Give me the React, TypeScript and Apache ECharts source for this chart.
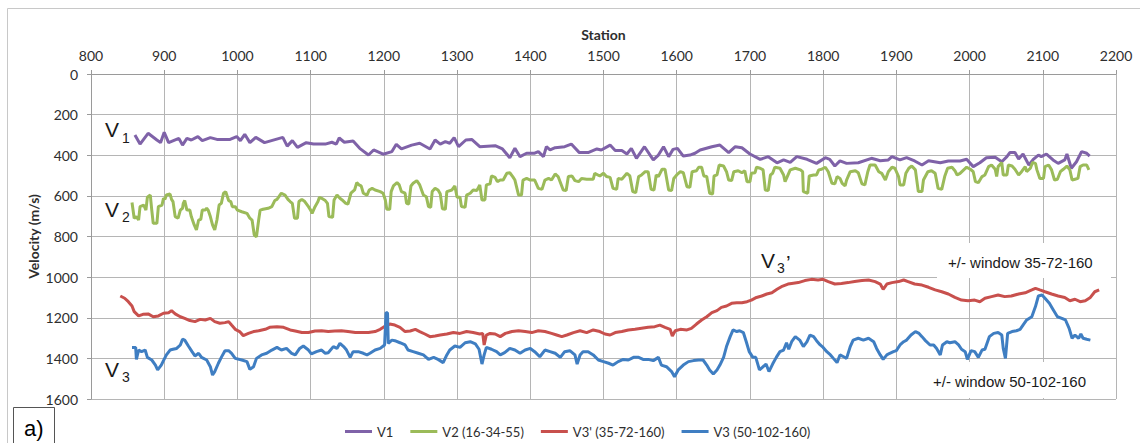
import React, { useEffect, useRef } from "react";
import * as echarts from "echarts";

// Station ranges and axis settings
const stationMin = 800;
const stationMax = 2200;
const stationStep = 100;
const velocityMin = 0;
const velocityMax = 1600;
const velocityStep = 200;

const seriesNames = ["V1", "V2 (16-34-55)", "V3' (35-72-160)", "V3 (50-102-160)"];
const seriesColors = ["#7F62A8", "#9BBB59", "#C8504D", "#3F7EC2"];

// [station, velocity m/s]
const v1: number[][] = [
  [860, 300], [867, 345], [878, 292], [890, 325], [895, 338], [900, 287], [906, 338], [920, 317], [925, 350], [931, 317],
  [937, 325], [946, 308], [952, 328], [963, 313], [972, 322], [990, 322], [999, 308], [1004, 328], [1010, 297], [1017, 338],
  [1025, 312], [1037, 338], [1062, 312], [1068, 355], [1075, 328], [1082, 361], [1094, 338], [1104, 345], [1120, 345], [1129, 336],
  [1135, 345], [1139, 315], [1146, 336], [1158, 330], [1167, 366], [1179, 399], [1186, 374], [1199, 395], [1211, 382], [1217, 346],
  [1224, 369], [1238, 350], [1249, 341], [1263, 369], [1270, 325], [1277, 345], [1284, 333], [1290, 341], [1296, 313], [1302, 358],
  [1312, 325], [1320, 322], [1331, 358], [1352, 353], [1362, 369], [1372, 412], [1379, 366], [1386, 407], [1395, 390], [1406, 390],
  [1411, 382], [1418, 407], [1422, 358], [1427, 374], [1434, 363], [1447, 358], [1456, 345], [1467, 387], [1479, 387], [1491, 369],
  [1497, 374], [1509, 350], [1516, 377], [1525, 377], [1532, 394], [1538, 366], [1545, 415], [1556, 358], [1568, 423], [1575, 399],
  [1582, 358], [1589, 407], [1595, 371], [1601, 366], [1609, 404], [1618, 399], [1625, 390], [1632, 374], [1648, 358], [1659, 350],
  [1671, 387], [1680, 358], [1689, 363], [1700, 394], [1714, 420], [1725, 407], [1737, 437], [1746, 423], [1755, 435], [1764, 407],
  [1778, 420], [1791, 440], [1803, 412], [1809, 420], [1816, 453], [1823, 428], [1832, 440], [1848, 437], [1866, 415], [1878, 427],
  [1889, 423], [1894, 407], [1905, 423], [1914, 412], [1925, 428], [1935, 448], [1944, 427], [1960, 437], [1971, 428], [1987, 428],
  [1996, 420], [2005, 456], [2014, 437], [2023, 412], [2035, 410], [2044, 432], [2051, 407], [2055, 387], [2062, 387], [2067, 418],
  [2073, 394], [2081, 448], [2087, 420], [2094, 399], [2098, 407], [2105, 394], [2114, 423], [2121, 440], [2130, 423], [2133, 394],
  [2139, 464], [2146, 432], [2153, 382], [2160, 390], [2164, 404],
];

const v2: number[][] = [
  [856, 633], [859, 710], [862, 702], [865, 719], [867, 653], [872, 645], [875, 670], [877, 607], [881, 596], [883, 670],
  [885, 735], [890, 735], [892, 653], [897, 645], [899, 612], [901, 617], [903, 596], [908, 591], [910, 617], [912, 628],
  [915, 702], [919, 710], [922, 670], [925, 661], [926, 637], [928, 623], [931, 670], [935, 670], [937, 702], [941, 743],
  [944, 768], [947, 719], [950, 715], [952, 670], [956, 670], [958, 661], [960, 670], [963, 702], [966, 743], [969, 768],
  [972, 719], [975, 645], [978, 637], [981, 587], [984, 579], [988, 623], [991, 628], [993, 653], [997, 653], [1000, 670],
  [1006, 678], [1013, 686], [1017, 710], [1020, 719], [1023, 793], [1026, 801], [1029, 719], [1031, 670], [1035, 666], [1042, 661],
  [1047, 653], [1051, 623], [1054, 617], [1056, 607], [1060, 587], [1065, 596], [1069, 617], [1072, 628], [1075, 637], [1078, 710],
  [1082, 710], [1084, 628], [1088, 617], [1092, 628], [1097, 653], [1100, 670], [1102, 686], [1106, 653], [1110, 628], [1112, 607],
  [1115, 612], [1120, 623], [1123, 637], [1125, 702], [1130, 706], [1132, 620], [1136, 596], [1140, 612], [1143, 620], [1148, 637],
  [1151, 640], [1155, 587], [1160, 571], [1163, 535], [1166, 546], [1169, 551], [1172, 587], [1177, 596], [1180, 571], [1184, 563],
  [1188, 571], [1195, 579], [1199, 587], [1202, 620], [1204, 666], [1208, 666], [1210, 579], [1213, 551], [1218, 535], [1221, 546],
  [1224, 579], [1229, 587], [1231, 637], [1234, 640], [1237, 551], [1240, 538], [1245, 525], [1249, 546], [1254, 596], [1258, 604],
  [1261, 653], [1264, 656], [1266, 579], [1270, 563], [1274, 571], [1277, 590], [1280, 663], [1284, 666], [1286, 579], [1293, 571],
  [1297, 551], [1300, 607], [1304, 607], [1306, 653], [1311, 656], [1313, 596], [1318, 587], [1322, 571], [1327, 574], [1331, 546],
  [1334, 620], [1338, 620], [1340, 546], [1345, 541], [1347, 502], [1352, 509], [1355, 530], [1359, 522], [1363, 522], [1368, 489],
  [1372, 486], [1376, 505], [1379, 522], [1384, 596], [1388, 596], [1390, 522], [1395, 514], [1400, 522], [1406, 522], [1411, 563],
  [1416, 568], [1420, 522], [1425, 514], [1429, 522], [1434, 492], [1438, 505], [1445, 571], [1449, 574], [1452, 505], [1457, 502],
  [1461, 525], [1466, 530], [1470, 514], [1477, 518], [1486, 518], [1488, 489], [1495, 502], [1500, 489], [1504, 505], [1509, 509],
  [1513, 563], [1518, 568], [1520, 514], [1525, 518], [1532, 489], [1536, 502], [1540, 579], [1544, 584], [1548, 505], [1552, 497],
  [1557, 481], [1561, 481], [1565, 568], [1569, 571], [1572, 497], [1575, 505], [1580, 469], [1584, 469], [1589, 571], [1593, 574],
  [1596, 514], [1600, 497], [1605, 481], [1609, 486], [1614, 555], [1618, 558], [1621, 481], [1627, 476], [1630, 459], [1634, 459],
  [1637, 502], [1641, 505], [1645, 587], [1649, 591], [1651, 502], [1655, 497], [1658, 448], [1664, 453], [1668, 481], [1671, 522],
  [1675, 525], [1678, 481], [1684, 476], [1689, 486], [1693, 476], [1696, 530], [1700, 530], [1702, 489], [1707, 486], [1709, 459],
  [1714, 464], [1718, 472], [1721, 571], [1725, 574], [1728, 497], [1731, 489], [1734, 459], [1741, 464], [1746, 497], [1748, 530],
  [1750, 514], [1755, 472], [1762, 464], [1769, 472], [1772, 481], [1773, 579], [1779, 587], [1781, 502], [1787, 497], [1791, 497],
  [1794, 472], [1798, 469], [1803, 459], [1807, 481], [1812, 538], [1816, 541], [1819, 505], [1823, 514], [1826, 538], [1830, 551],
  [1832, 522], [1837, 481], [1844, 476], [1848, 486], [1853, 541], [1857, 546], [1861, 481], [1864, 448], [1871, 448], [1876, 481],
  [1880, 489], [1885, 522], [1889, 481], [1894, 459], [1898, 464], [1903, 505], [1905, 546], [1910, 546], [1913, 489], [1917, 464],
  [1921, 453], [1926, 472], [1930, 579], [1935, 579], [1937, 522], [1943, 481], [1948, 476], [1953, 489], [1957, 563], [1962, 568],
  [1966, 505], [1970, 464], [1976, 459], [1980, 476], [1983, 497], [1987, 489], [1992, 472], [1996, 459], [2001, 469], [2005, 481],
  [2008, 530], [2012, 535], [2017, 505], [2021, 497], [2026, 456], [2030, 448], [2035, 469], [2037, 505], [2039, 456], [2044, 436],
  [2046, 497], [2051, 497], [2053, 448], [2058, 453], [2062, 469], [2067, 497], [2071, 481], [2076, 456], [2078, 481], [2083, 464],
  [2086, 436], [2090, 440], [2092, 472], [2096, 514], [2101, 514], [2103, 456], [2108, 448], [2112, 472], [2116, 522], [2120, 518],
  [2124, 481], [2128, 469], [2133, 453], [2137, 472], [2140, 522], [2144, 518], [2148, 514], [2151, 456], [2155, 448], [2160, 448],
  [2163, 472],
];

const v3p: number[][] = [
  [840, 1093], [846, 1104], [851, 1121], [856, 1142], [859, 1170], [865, 1191], [871, 1183], [878, 1181], [885, 1195], [892, 1191],
  [899, 1178], [906, 1175], [910, 1165], [915, 1181], [922, 1195], [928, 1203], [935, 1214], [942, 1219], [949, 1208], [956, 1211],
  [963, 1203], [969, 1219], [976, 1227], [983, 1224], [988, 1219], [992, 1236], [997, 1257], [1003, 1268], [1008, 1288], [1015, 1277],
  [1022, 1268], [1029, 1264], [1038, 1257], [1044, 1247], [1054, 1244], [1063, 1247], [1072, 1260], [1079, 1265], [1088, 1273], [1097, 1273],
  [1106, 1265], [1115, 1264], [1124, 1268], [1133, 1265], [1142, 1264], [1151, 1268], [1161, 1273], [1170, 1272], [1179, 1273], [1188, 1268],
  [1195, 1257], [1202, 1241], [1208, 1231], [1215, 1236], [1222, 1247], [1229, 1268], [1236, 1265], [1243, 1257], [1249, 1268], [1256, 1280],
  [1263, 1293], [1270, 1290], [1277, 1285], [1286, 1280], [1295, 1273], [1304, 1277], [1313, 1268], [1322, 1273], [1331, 1280], [1335, 1277],
  [1337, 1334], [1340, 1285], [1345, 1277], [1352, 1280], [1359, 1293], [1366, 1277], [1375, 1268], [1384, 1264], [1393, 1268], [1402, 1273],
  [1411, 1264], [1420, 1268], [1429, 1277], [1436, 1285], [1443, 1293], [1450, 1285], [1459, 1273], [1468, 1264], [1477, 1273], [1486, 1260],
  [1495, 1268], [1502, 1280], [1509, 1285], [1516, 1273], [1525, 1268], [1534, 1260], [1543, 1257], [1552, 1252], [1561, 1247], [1570, 1244],
  [1577, 1236], [1584, 1247], [1591, 1257], [1594, 1290], [1598, 1264], [1605, 1257], [1614, 1260], [1620, 1252], [1627, 1231], [1634, 1211],
  [1641, 1195], [1648, 1175], [1655, 1165], [1661, 1149], [1668, 1142], [1675, 1129], [1682, 1126], [1689, 1126], [1696, 1121], [1702, 1113],
  [1709, 1100], [1716, 1093], [1723, 1083], [1730, 1077], [1737, 1060], [1743, 1047], [1752, 1034], [1757, 1031], [1766, 1027], [1775, 1017],
  [1784, 1011], [1793, 1014], [1800, 1011], [1807, 1022], [1816, 1034], [1825, 1031], [1834, 1027], [1843, 1022], [1853, 1017], [1862, 1014],
  [1871, 1022], [1878, 1034], [1882, 1060], [1887, 1034], [1894, 1027], [1903, 1022], [1910, 1014], [1916, 1022], [1925, 1034], [1935, 1039],
  [1944, 1050], [1953, 1063], [1962, 1072], [1971, 1083], [1980, 1100], [1989, 1113], [1998, 1116], [2007, 1113], [2014, 1121], [2021, 1104],
  [2030, 1096], [2039, 1088], [2048, 1096], [2057, 1093], [2067, 1083], [2076, 1077], [2085, 1063], [2090, 1055], [2096, 1063], [2103, 1072],
  [2112, 1083], [2121, 1093], [2130, 1100], [2137, 1116], [2144, 1109], [2151, 1121], [2158, 1116], [2165, 1100], [2171, 1072], [2177, 1063],
];

const v3: number[][] = [
  [856, 1346], [861, 1346], [862, 1405], [865, 1359], [869, 1367], [874, 1359], [877, 1395], [883, 1408], [888, 1433], [891, 1457],
  [896, 1433], [899, 1411], [903, 1383], [908, 1359], [912, 1355], [917, 1351], [922, 1334], [925, 1306], [928, 1310], [933, 1339],
  [938, 1367], [942, 1388], [947, 1375], [951, 1395], [958, 1408], [963, 1441], [966, 1482], [969, 1465], [974, 1424], [978, 1395],
  [983, 1362], [988, 1362], [992, 1375], [997, 1400], [1006, 1408], [1013, 1416], [1017, 1454], [1022, 1441], [1026, 1400], [1033, 1383],
  [1040, 1375], [1047, 1359], [1054, 1346], [1060, 1359], [1067, 1351], [1074, 1375], [1079, 1383], [1085, 1351], [1090, 1339], [1097, 1359],
  [1101, 1378], [1108, 1367], [1115, 1359], [1120, 1375], [1124, 1372], [1131, 1342], [1136, 1351], [1140, 1326], [1145, 1342], [1149, 1359],
  [1154, 1395], [1158, 1367], [1165, 1367], [1172, 1375], [1177, 1383], [1181, 1375], [1188, 1359], [1195, 1351], [1201, 1334], [1203, 1175],
  [1205, 1175], [1206, 1326], [1211, 1310], [1215, 1313], [1222, 1323], [1229, 1334], [1233, 1359], [1240, 1367], [1247, 1375], [1254, 1383],
  [1261, 1405], [1268, 1395], [1274, 1405], [1281, 1421], [1286, 1383], [1290, 1359], [1297, 1339], [1304, 1346], [1311, 1323], [1318, 1318],
  [1325, 1329], [1330, 1355], [1334, 1428], [1337, 1383], [1340, 1346], [1347, 1355], [1354, 1367], [1359, 1383], [1365, 1372], [1372, 1351],
  [1379, 1359], [1386, 1375], [1393, 1359], [1400, 1351], [1406, 1367], [1413, 1392], [1420, 1359], [1427, 1367], [1434, 1375], [1441, 1395],
  [1447, 1367], [1454, 1362], [1461, 1383], [1464, 1428], [1468, 1383], [1472, 1367], [1479, 1367], [1486, 1383], [1493, 1408], [1500, 1416],
  [1507, 1424], [1513, 1433], [1520, 1416], [1527, 1405], [1534, 1408], [1541, 1395], [1548, 1395], [1554, 1405], [1561, 1405], [1568, 1411],
  [1575, 1395], [1579, 1433], [1586, 1441], [1593, 1465], [1597, 1490], [1602, 1457], [1609, 1433], [1616, 1416], [1623, 1411], [1630, 1408],
  [1636, 1408], [1641, 1433], [1645, 1457], [1650, 1477], [1655, 1457], [1659, 1433], [1664, 1395], [1668, 1342], [1673, 1293], [1677, 1260],
  [1682, 1268], [1686, 1264], [1691, 1273], [1695, 1318], [1699, 1367], [1704, 1395], [1708, 1395], [1713, 1457], [1717, 1444], [1722, 1428],
  [1726, 1465], [1731, 1428], [1736, 1395], [1741, 1367], [1746, 1359], [1750, 1323], [1753, 1355], [1757, 1318], [1762, 1293], [1768, 1310],
  [1773, 1342], [1778, 1318], [1782, 1285], [1787, 1293], [1791, 1313], [1796, 1334], [1800, 1346], [1805, 1367], [1810, 1383], [1814, 1400],
  [1819, 1421], [1823, 1383], [1828, 1392], [1832, 1400], [1837, 1342], [1841, 1310], [1848, 1301], [1855, 1310], [1862, 1301], [1869, 1318],
  [1873, 1351], [1878, 1383], [1882, 1405], [1887, 1383], [1891, 1375], [1896, 1367], [1900, 1362], [1905, 1334], [1910, 1318], [1914, 1310],
  [1920, 1285], [1926, 1268], [1931, 1277], [1935, 1293], [1939, 1310], [1946, 1334], [1951, 1334], [1955, 1351], [1960, 1383], [1963, 1334],
  [1969, 1318], [1973, 1323], [1980, 1318], [1985, 1334], [1989, 1355], [1994, 1367], [1997, 1405], [2002, 1362], [2007, 1367], [2012, 1395],
  [2017, 1359], [2021, 1355], [2027, 1293], [2033, 1277], [2039, 1273], [2044, 1285], [2046, 1351], [2049, 1400], [2052, 1277], [2058, 1268],
  [2064, 1264], [2069, 1257], [2073, 1236], [2078, 1211], [2085, 1195], [2090, 1145], [2094, 1093], [2099, 1088], [2103, 1104], [2109, 1129],
  [2114, 1159], [2120, 1195], [2126, 1203], [2131, 1211], [2136, 1252], [2140, 1301], [2144, 1285], [2149, 1301], [2152, 1280], [2155, 1301],
  [2160, 1306], [2165, 1310],
];

const seriesData = [v1, v2, v3p, v3];

const labelFont = "Lato, 'Open Sans', sans-serif";
const noteFont = "'Liberation Sans', Arial, sans-serif";

function txt(x: number, y: number, text: string, size: number, extra: Record<string, unknown> = {}) {
  return {
    type: "text",
    x,
    y,
    z: 20,
    style: {
      text,
      fontSize: size,
      fontFamily: noteFont,
      fill: "#1a1a1a",
      align: "left",
      verticalAlign: "middle",
      textAlign: "left",
      textVerticalAlign: "middle",
      ...extra,
    },
  };
}

const plainNumber = (v: number) => String(v);

export default function App() {
  const ref = useRef<HTMLDivElement>(null);

  useEffect(() => {
    if (!ref.current) return;
    const chart = echarts.init(ref.current, null, { renderer: "svg" });
    chart.setOption({
      animation: false,
      backgroundColor: "#ffffff",
      grid: { left: 91, right: 24, top: 74, bottom: 44 },
      xAxis: {
        type: "value",
        position: "top",
        min: stationMin,
        max: stationMax,
        interval: stationStep,
        axisLine: { show: true, lineStyle: { color: "#9a9a9a", width: 1 } },
        axisTick: { show: true, inside: false, length: 4, lineStyle: { color: "#9a9a9a" } },
        axisLabel: { margin: 12, fontFamily: labelFont, fontSize: 14, color: "#2e2e2e", formatter: plainNumber },
        splitLine: { show: true, lineStyle: { color: "#b5b5b5", width: 1 } },
      },
      yAxis: {
        type: "value",
        inverse: true,
        min: velocityMin,
        max: velocityMax,
        interval: velocityStep,
        axisLine: { show: true, lineStyle: { color: "#9a9a9a", width: 1 } },
        axisTick: { show: true, inside: false, length: 4, lineStyle: { color: "#9a9a9a" } },
        axisLabel: { margin: 13, fontFamily: labelFont, fontSize: 14, color: "#2e2e2e", formatter: plainNumber },
        splitLine: { show: true, lineStyle: { color: "#b5b5b5", width: 1 } },
      },
      legend: {
        left: 340,
        top: 420,
        icon: "rect",
        itemWidth: 27,
        itemHeight: 3,
        itemGap: 17,
        textStyle: { fontFamily: labelFont, fontSize: 13, color: "#2e2e2e" },
        data: seriesNames,
      },
      series: seriesNames.map((name, i) => ({
        name,
        type: "line",
        data: seriesData[i],
        showSymbol: false,
        symbol: "none",
        color: seriesColors[i],
        lineStyle: { color: seriesColors[i], width: 3 },
        z: 2 + i,
      })),
      graphic: [
        // outer frame
        {
          type: "rect",
          z: 0,
          shape: { x: 7.5, y: 8.5, width: 1140, height: 440 },
          style: { fill: "none", stroke: "#c8c8c8", lineWidth: 1 },
        },
        // white backing for the window notes
        { type: "rect", z: 15, shape: { x: 937, y: 243, width: 174, height: 35 }, style: { fill: "#ffffff" } },
        { type: "rect", z: 15, shape: { x: 930, y: 362, width: 180, height: 36 }, style: { fill: "#ffffff" } },
        txt(948, 262, "+/- window 35-72-160", 15),
        txt(933, 381, "+/- window 50-102-160", 15),
        // curve labels
        txt(105, 129.5, "V", 21),
        txt(122, 138, "1", 14),
        txt(105, 209.5, "V", 21),
        txt(122, 217, "2", 14),
        txt(105, 369.5, "V", 21),
        txt(122, 376.5, "3", 14),
        txt(761, 260.5, "V", 21),
        txt(777, 268, "3", 14),
        txt(786, 262, "\u2019", 21),
        // axis titles
        {
          type: "text",
          x: 603.5,
          y: 34,
          z: 20,
          style: {
            text: "Station",
            fontSize: 14,
            fontWeight: "bold",
            fontFamily: labelFont,
            fill: "#2e2e2e",
            align: "center",
            verticalAlign: "middle",
            textAlign: "center",
            textVerticalAlign: "middle",
          },
        },
        {
          type: "text",
          x: 33,
          y: 236.5,
          rotation: Math.PI / 2,
          z: 20,
          style: {
            text: "Velocity (m/s)",
            fontSize: 14,
            fontWeight: "bold",
            fontFamily: labelFont,
            fill: "#2e2e2e",
            align: "center",
            verticalAlign: "middle",
            textAlign: "center",
            textVerticalAlign: "middle",
          },
        },
        // panel tag
        {
          type: "rect",
          z: 20,
          shape: { x: 13.5, y: 407.5, width: 41, height: 45 },
          style: { fill: "#ffffff", stroke: "#555555", lineWidth: 1 },
        },
        txt(24, 428, "a)", 22, { fill: "#000000" }),
      ],
    });
    return () => chart.dispose();
  }, []);

  return (
    <div
      ref={ref}
      style={{ position: "absolute", left: 0, top: 0, width: 1140, height: 443, background: "#ffffff" }}
    />
  );
}
